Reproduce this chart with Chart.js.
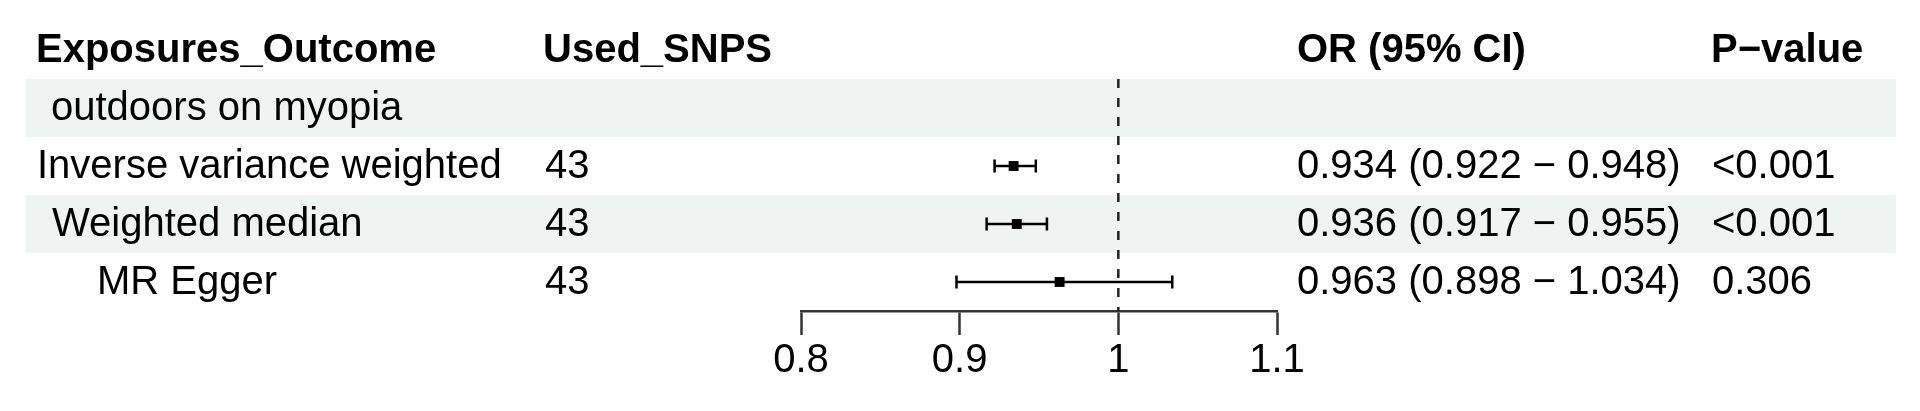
<!DOCTYPE html>
<html>
<head>
<meta charset="utf-8">
<script src="https://cdn.jsdelivr.net/npm/chart.js@4.4.1/dist/chart.umd.min.js"></script>
<style>
  html, body { margin: 0; padding: 0; background: #fff; }
  #wrap { width: 1920px; height: 411px; }
</style>
</head>
<body>
<div id="wrap"><canvas id="chart"></canvas></div>
<script>
// Table data
const headers = ['Exposures_Outcome', 'Used_SNPS', 'OR (95% CI)', 'P\u2212value'];
const groupLabel = 'outdoors on myopia';
const methods = ['Inverse variance weighted', 'Weighted median', 'MR Egger'];
const usedSnps = ['43', '43', '43'];
const orValues = [0.934, 0.936, 0.963];
const ciLower = [0.922, 0.917, 0.898];
const ciUpper = [0.948, 0.955, 1.034];
const pValues = ['<0.001', '<0.001', '0.306'];
const tickValues = [0.8, 0.9, 1, 1.1];
const tickLabels = ['0.8', '0.9', '1', '1.1'];
const refValue = 1;

const FONT = "'Liberation Sans', Arial, sans-serif";
const fmt = v => v.toFixed(3);

// rows: 0 = header, 1 = group, 2.. = methods
const rowOf = i => i + 2;

// Table text + zebra bands, drawn behind the marks
const tablePlugin = {
  id: 'table',
  beforeDatasetsDraw(chart) {
    const ctx = chart.ctx;
    const y = chart.scales.y;
    ctx.save();

    ctx.fillStyle = '#eff3f2';
    [1, 3].forEach(r => {
      const top = y.getPixelForValue(r - 0.5);
      const bot = y.getPixelForValue(r + 0.5);
      ctx.fillRect(26, top, 1896 - 26, bot - top);
    });

    const base = r => y.getPixelForValue(r) + 12;
    ctx.fillStyle = '#000';
    ctx.textAlign = 'left';
    ctx.textBaseline = 'alphabetic';

    ctx.font = 'bold 40px ' + FONT;
    const colX = [36, 543, 1297, 1711];
    headers.forEach((h, i) => ctx.fillText(h, colX[i], base(0)));

    ctx.font = '40px ' + FONT;
    ctx.fillText(groupLabel, 51, base(1));

    const labelX = [37, 52, 97];
    methods.forEach((m, i) => {
      const b = base(rowOf(i));
      ctx.fillText(m, labelX[i], b);
      ctx.fillText(usedSnps[i], 545, b);
      ctx.fillText(fmt(orValues[i]) + ' (' + fmt(ciLower[i]) + ' \u2212 ' + fmt(ciUpper[i]) + ')', 1297, b);
      ctx.fillText(pValues[i], 1712, b);
    });
    ctx.restore();
  }
};

const datasets = [];

// reference line at OR = 1
datasets.push({
  data: [{ x: refValue, y: 0.5 }, { x: refValue, y: 4.5 }],
  showLine: true,
  borderColor: '#222',
  borderWidth: 2.5,
  borderDash: [9, 10],
  pointRadius: 0
});

// confidence intervals with end caps
methods.forEach((m, i) => {
  datasets.push({
    data: [{ x: ciLower[i], y: rowOf(i) }, { x: ciUpper[i], y: rowOf(i) }],
    showLine: true,
    borderColor: '#000',
    borderWidth: 2.5,
    pointStyle: 'line',
    pointRotation: 90,
    pointRadius: 6.5,
    pointBorderWidth: 2.5,
    pointBorderColor: '#000'
  });
});

// point estimates
datasets.push({
  data: orValues.map((v, i) => ({ x: v, y: rowOf(i) })),
  pointStyle: 'rect',
  pointRadius: 7,
  pointBackgroundColor: '#000',
  pointBorderWidth: 0
});

const ctx = document.getElementById('chart').getContext('2d');
const chart = new Chart(ctx, {
  type: 'scatter',
  data: { datasets },
  plugins: [tablePlugin],
  options: {
    responsive: true,
    maintainAspectRatio: false,
    animation: false,
    layout: { padding: { left: 801, right: 643, top: 79, bottom: 24 } },
    plugins: { legend: { display: false }, tooltip: { enabled: false } },
    scales: {
      x: {
        type: 'linear',
        min: 0.8,
        max: 1.1,
        afterBuildTicks: s => { s.ticks = tickValues.map(v => ({ value: v })); },
        ticks: {
          callback: (v, i) => tickLabels[i],
          color: '#000',
          padding: 2,
          maxRotation: 0,
          font: { family: FONT, size: 40 }
        },
        grid: {
          drawOnChartArea: false,
          drawTicks: true,
          tickLength: 24,
          tickColor: '#333',
          tickWidth: 2.5
        },
        border: { display: true, color: '#333', width: 2.5 }
      },
      y: {
        type: 'linear',
        reverse: true,
        min: 0.5,
        max: 4.5,
        display: false
      }
    }
  }
});
</script>
</body>
</html>
